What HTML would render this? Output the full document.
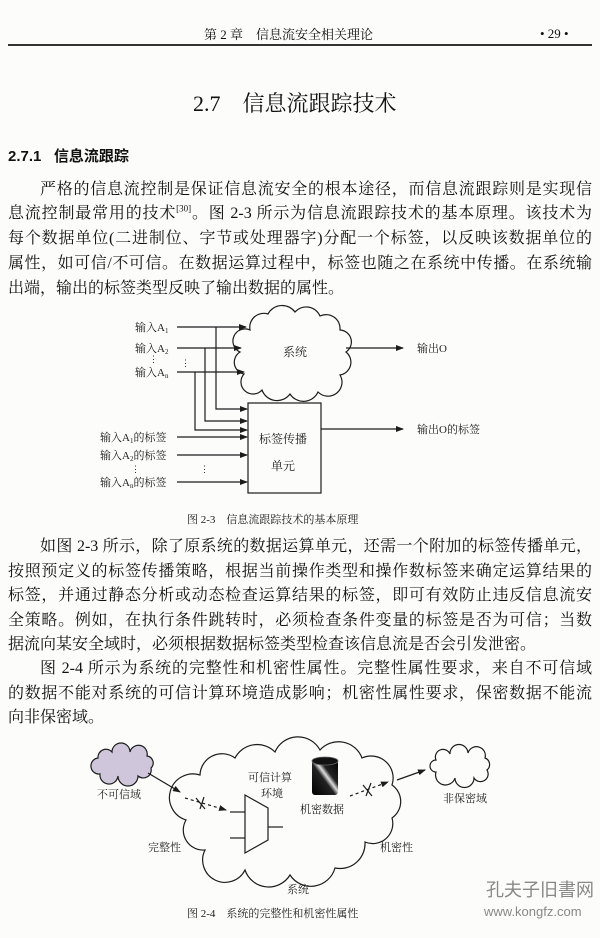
<!DOCTYPE html>
<html><head><meta charset="utf-8"><style>
html,body{margin:0;padding:0;background:#fcfcfb;}
body{width:600px;height:938px;position:relative;overflow:hidden;font-family:"Liberation Serif","Noto Serif CJK SC","Noto Sans CJK SC",serif;color:#111;}
.l{position:absolute;left:8px;width:584px;font-size:16px;line-height:20px;white-space:nowrap;text-align:justify;text-align-last:justify;}
.l.e{text-align-last:left;}
.a{position:absolute;white-space:nowrap;}
svg{position:absolute;left:0;top:0;}
sup{font-size:9px;line-height:0;}
</style></head><body>
<div class="a" style="left:204px;top:24px;font-size:13px;">第 2 章&nbsp;&nbsp;&nbsp;&nbsp;信息流安全相关理论</div>
<div class="a" style="left:540px;top:26px;font-size:13px;">• 29 •</div>
<div class="a" style="left:8px;top:44px;width:584px;height:2px;background:#333;"></div>
<div class="a" style="left:193px;top:87px;font-size:22px;">2.7&nbsp;&nbsp;&nbsp;&nbsp;信息流跟踪技术</div>
<div class="a" style="left:8px;top:145px;font-size:15px;font-weight:bold;font-family:'Liberation Sans','Noto Sans CJK SC',sans-serif;">2.7.1&nbsp;&nbsp;&nbsp;信息流跟踪</div>

<div class="l" style="top:180px;padding-left:32px;width:552px;">严格的信息流控制是保证信息流安全的根本途径，而信息流跟踪则是实现信</div>
<div class="l" style="top:204px;">息流控制最常用的技术<sup>[30]</sup>。图 2-3 所示为信息流跟踪技术的基本原理。该技术为</div>
<div class="l" style="top:229px;">每个数据单位(二进制位、字节或处理器字)分配一个标签，以反映该数据单位的</div>
<div class="l" style="top:254px;">属性，如可信/不可信。在数据运算过程中，标签也随之在系统中传播。在系统输</div>
<div class="l e" style="top:279px;">出端，输出的标签类型反映了输出数据的属性。</div>

<div class="l" style="top:537px;padding-left:32px;width:552px;">如图 2-3 所示，除了原系统的数据运算单元，还需一个附加的标签传播单元，</div>
<div class="l" style="top:562px;">按照预定义的标签传播策略，根据当前操作类型和操作数标签来确定运算结果的</div>
<div class="l" style="top:586px;">标签，并通过静态分析或动态检查运算结果的标签，即可有效防止违反信息流安</div>
<div class="l" style="top:611px;">全策略。例如，在执行条件跳转时，必须检查条件变量的标签是否为可信；当数</div>
<div class="l e" style="top:635px;">据流向某安全域时，必须根据数据标签类型检查该信息流是否会引发泄密。</div>
<div class="l" style="top:659px;padding-left:32px;width:552px;">图 2-4 所示为系统的完整性和机密性属性。完整性属性要求，来自不可信域</div>
<div class="l" style="top:684px;">的数据不能对系统的可信计算环境造成影响；机密性属性要求，保密数据不能流</div>
<div class="l e" style="top:708px;">向非保密域。</div>

<svg width="600" height="938" viewBox="0 0 600 938" font-family="Liberation Serif,Noto Serif CJK SC,serif" fill="#1c1c1c">
<defs>
<marker id="ar" markerWidth="8" markerHeight="6" refX="7" refY="3" orient="auto" markerUnits="userSpaceOnUse"><path d="M0,0L8,3L0,6z" fill="#1c1c1c"/></marker>
<linearGradient id="cy" x1="0" y1="1" x2="1" y2="0"><stop offset="0" stop-color="#000"/><stop offset="0.45" stop-color="#222"/><stop offset="0.55" stop-color="#ddd"/><stop offset="0.65" stop-color="#222"/><stop offset="1" stop-color="#000"/></linearGradient>
</defs>
<g stroke="#1c1c1c" stroke-width="1.2" fill="none">
<path d="M250,330 A14,14 0 0 1 268,314 A16,16 0 0 1 295,312 A15,15 0 0 1 320,316 A14,14 0 0 1 340,330 A12,12 0 0 1 346,352 A13,13 0 0 1 340,375 A14,14 0 0 1 318,392 A16,16 0 0 1 290,394 A16,16 0 0 1 262,390 A12,12 0 0 1 244,374 A12,12 0 0 1 240,352 A12,12 0 0 1 250,330 Z"/>
<line x1="177" y1="327" x2="246" y2="327" marker-end="url(#ar)"/>
<line x1="177" y1="348" x2="241" y2="348" marker-end="url(#ar)"/>
<line x1="177" y1="372" x2="244" y2="372" marker-end="url(#ar)"/>
<polyline points="216,327 216,409 247,409" marker-end="url(#ar)"/>
<polyline points="205,348 205,421 247,421" marker-end="url(#ar)"/>
<polyline points="195,372 195,430 247,430" marker-end="url(#ar)"/>
<line x1="346" y1="348" x2="403" y2="348" marker-end="url(#ar)"/>
<rect x="248" y="403" width="73" height="90"/>
<line x1="177" y1="437" x2="247" y2="437" marker-end="url(#ar)"/>
<line x1="177" y1="455" x2="247" y2="455" marker-end="url(#ar)"/>
<line x1="177" y1="482" x2="247" y2="482" marker-end="url(#ar)"/>
<line x1="321" y1="429" x2="403" y2="429" marker-end="url(#ar)"/>
</g>
<g font-size="11">
<text x="135" y="331">输入A<tspan font-size="7" dy="2">1</tspan></text>
<text x="135" y="352">输入A<tspan font-size="7" dy="2">2</tspan></text>
<text x="135" y="376">输入A<tspan font-size="7" dy="2">n</tspan></text>
<text x="149" y="362" font-size="9">⋮</text><text x="181" y="366" font-size="9">⋮</text>
<text x="283" y="356" font-size="12">系统</text>
<text x="417" y="352">输出O</text>
<text x="259" y="443" font-size="12">标签传播</text>
<text x="271" y="470" font-size="12">单元</text>
<text x="100" y="441">输入A<tspan font-size="7" dy="2">1</tspan><tspan dy="-2">的标签</tspan></text>
<text x="100" y="459">输入A<tspan font-size="7" dy="2">2</tspan><tspan dy="-2">的标签</tspan></text>
<text x="100" y="486">输入A<tspan font-size="7" dy="2">n</tspan><tspan dy="-2">的标签</tspan></text>
<text x="131" y="472" font-size="9">⋮</text><text x="200" y="472" font-size="9">⋮</text>
<text x="417" y="433">输出O的标签</text>
<text x="187" y="523" font-size="11">图 2-3&#160;&#160;&#160;&#160;信息流跟踪技术的基本原理</text>
</g>

<g stroke="#1c1c1c" stroke-width="1.2" fill="none">
<path d="M98,758 A8,8 0 0 1 112,752 A9,9 0 0 1 130,752 A8,8 0 0 1 147,756 A7,7 0 0 1 151,768 A8,8 0 0 1 138,776 A9,9 0 0 1 118,776 A8,8 0 0 1 100,774 A7,7 0 0 1 98,758 Z" fill="#cfc6dc"/>
<path d="M200,775 A22,22 0 0 1 235,758 A25,25 0 0 1 275,752 A25,25 0 0 1 320,750 A25,25 0 0 1 362,758 A22,22 0 0 1 392,785 A20,20 0 0 1 392,818 A20,20 0 0 1 365,842 A25,25 0 0 1 335,868 A25,25 0 0 1 290,875 A25,25 0 0 1 245,870 A22,22 0 0 1 205,850 A20,20 0 0 1 186,820 A20,20 0 0 1 200,775 Z"/>
<path d="M436,760 A7,7 0 0 1 450,754 A8,8 0 0 1 468,753 A8,8 0 0 1 485,758 A7,7 0 0 1 487,770 A7,7 0 0 1 474,778 A8,8 0 0 1 455,778 A7,7 0 0 1 436,772 A6,6 0 0 1 436,760 Z"/>
<line x1="148" y1="773" x2="180" y2="792" marker-end="url(#ar)"/>
<line x1="185" y1="798" x2="226" y2="810" stroke-dasharray="3,3" marker-end="url(#ar)"/>
<path d="M196,798 L205,809 M200,809 L204,797"/>
<path d="M245,795 L268,808 L268,840 L245,853 Z"/>
<line x1="230" y1="812" x2="245" y2="812"/><line x1="230" y1="838" x2="245" y2="838"/><line x1="268" y1="827" x2="283" y2="827"/>
<line x1="350" y1="796" x2="388" y2="782" stroke-dasharray="3,3" marker-end="url(#ar)"/>
<path d="M363,785 L372,796 M366,796 L371,783"/>
<line x1="397" y1="780" x2="425" y2="770" marker-end="url(#ar)"/>
</g>
<rect x="312" y="760" width="26" height="35" rx="3" fill="url(#cy)"/>
<ellipse cx="325" cy="761" rx="13" ry="4" fill="#111" stroke="#666" stroke-width="0.8"/>
<g font-size="11">
<text x="97" y="798">不可信域</text>
<text x="248" y="781">可信计算</text>
<text x="261" y="797">环境</text>
<text x="300" y="813">机密数据</text>
<text x="148" y="851">完整性</text>
<text x="380" y="851">机密性</text>
<text x="287" y="893">系统</text>
<text x="443" y="802">非保密域</text>
<text x="187" y="917">图 2-4&#160;&#160;&#160;&#160;系统的完整性和机密性属性</text>
</g>
<text x="486" y="896" font-size="18" fill="#888" font-family="Noto Sans CJK SC,sans-serif">孔夫子旧書网</text>
<text x="484" y="916" font-size="13" fill="#888" font-family="Liberation Sans,sans-serif">www.kongfz.com</text>
</svg>
</body></html>
